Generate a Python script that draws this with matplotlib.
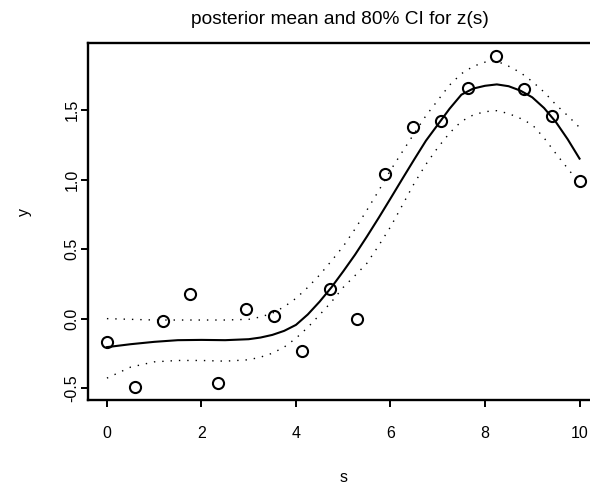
import matplotlib

matplotlib.use("Agg")

import matplotlib.pyplot as plt

# observed points
s_obs = [0.0, 0.59, 1.18, 1.76, 2.35, 2.94, 3.53, 4.12, 4.71,
         5.29, 5.88, 6.47, 7.06, 7.65, 8.24, 8.82, 9.41, 10.0]
y_obs = [-0.17, -0.49, -0.02, 0.18, -0.46, 0.07, 0.02, -0.23, 0.21,
         0.00, 1.04, 1.38, 1.42, 1.66, 1.89, 1.65, 1.46, 0.99]

# posterior mean of z(s) and 80% interval, read on a grid of s
s_grid = [0.0, 0.5, 1.0, 1.5, 2.0, 2.5, 3.0, 3.25, 3.5, 3.75, 4.0, 4.25,
          4.5, 4.75, 5.0, 5.25, 5.5, 5.75, 6.0, 6.25, 6.5, 6.75, 7.0, 7.25,
          7.5, 7.75, 8.0, 8.25, 8.5, 8.75, 9.0, 9.25, 9.5, 9.75, 10.0]
z_mean = [-0.205, -0.184, -0.167, -0.155, -0.153, -0.155, -0.148, -0.136,
          -0.117, -0.088, -0.045, 0.03, 0.122, 0.225, 0.34, 0.46, 0.59,
          0.725, 0.864, 1.005, 1.144, 1.28, 1.395, 1.51, 1.611, 1.655, 1.675,
          1.685, 1.672, 1.64, 1.592, 1.515, 1.414, 1.29, 1.151]
z_upper = [0.0, -0.005, -0.01, -0.01, -0.01, -0.01, -0.005, 0.012, 0.039,
           0.085, 0.146, 0.225, 0.314, 0.415, 0.52, 0.645, 0.78, 0.92, 1.067,
           1.20, 1.331, 1.46, 1.57, 1.68, 1.762, 1.815, 1.845, 1.852, 1.816,
           1.77, 1.706, 1.63, 1.539, 1.46, 1.375]
z_lower = [-0.428, -0.349, -0.311, -0.301, -0.301, -0.306, -0.296, -0.277,
           -0.249, -0.205, -0.141, -0.063, 0.027, 0.12, 0.225, 0.31, 0.398,
           0.525, 0.66, 0.815, 0.972, 1.11, 1.23, 1.335, 1.419, 1.465, 1.489,
           1.496, 1.475, 1.44, 1.395, 1.30, 1.187, 1.08, 0.974]

x_ticks = [0, 2, 4, 6, 8, 10]
y_ticks = [-0.5, 0.0, 0.5, 1.0, 1.5]
y_tick_labels = ["-0.5", "0.0", "0.5", "1.0", "1.5"]

plt.rcParams["font.family"] = ["Liberation Sans", "DejaVu Sans"]

fig = plt.figure(figsize=(5.9, 4.86), dpi=100)
ax = fig.add_axes([0.1492, 0.1770, 0.8651, 0.7352])

ax.plot(s_grid, z_mean, color="black", lw=1.5)
ax.plot(s_grid, z_upper, color="black", lw=1.0, ls=(0, (1, 5)))
ax.plot(s_grid, z_lower, color="black", lw=1.0, ls=(0, (1, 5)))
ax.plot(s_obs, y_obs, "o", mfc="none", mec="black", ms=8, mew=1.5)

# R-style 4% axis extension
xr = max(s_obs) - min(s_obs)
yr = max(y_obs) - min(y_obs)
ax.set_xlim(min(s_obs) - 0.04 * xr, max(s_obs) + 0.04 * xr)
ax.set_ylim(min(y_obs) - 0.04 * yr, max(y_obs) + 0.04 * yr)

for sp in ax.spines.values():
    sp.set_linewidth(1.7)
# right edge of the box falls outside the cropped picture
ax.spines["right"].set_visible(False)
ax.set_xticks(x_ticks, [str(t) for t in x_ticks])
ax.set_yticks(y_ticks, y_tick_labels, rotation=90, va="center")
ax.tick_params(length=5, width=1.4, labelsize=11.5)
ax.tick_params(axis="x", pad=14)
ax.tick_params(axis="y", pad=1)

ax.set_xlabel("s", fontsize=11.5)
ax.xaxis.set_label_coords(0.5, -0.2295)
ax.xaxis.label.set_va("baseline")
ax.set_ylabel("y", fontsize=11.5)
ax.yaxis.set_label_coords(-0.109, 0.526)

fig.text(340 / 590, 1 - 24 / 486, "posterior mean and 80% CI for z(s)",
         ha="center", va="baseline", fontsize=13.8)

fig.savefig("out.png", dpi=100)
plt.close(fig)
